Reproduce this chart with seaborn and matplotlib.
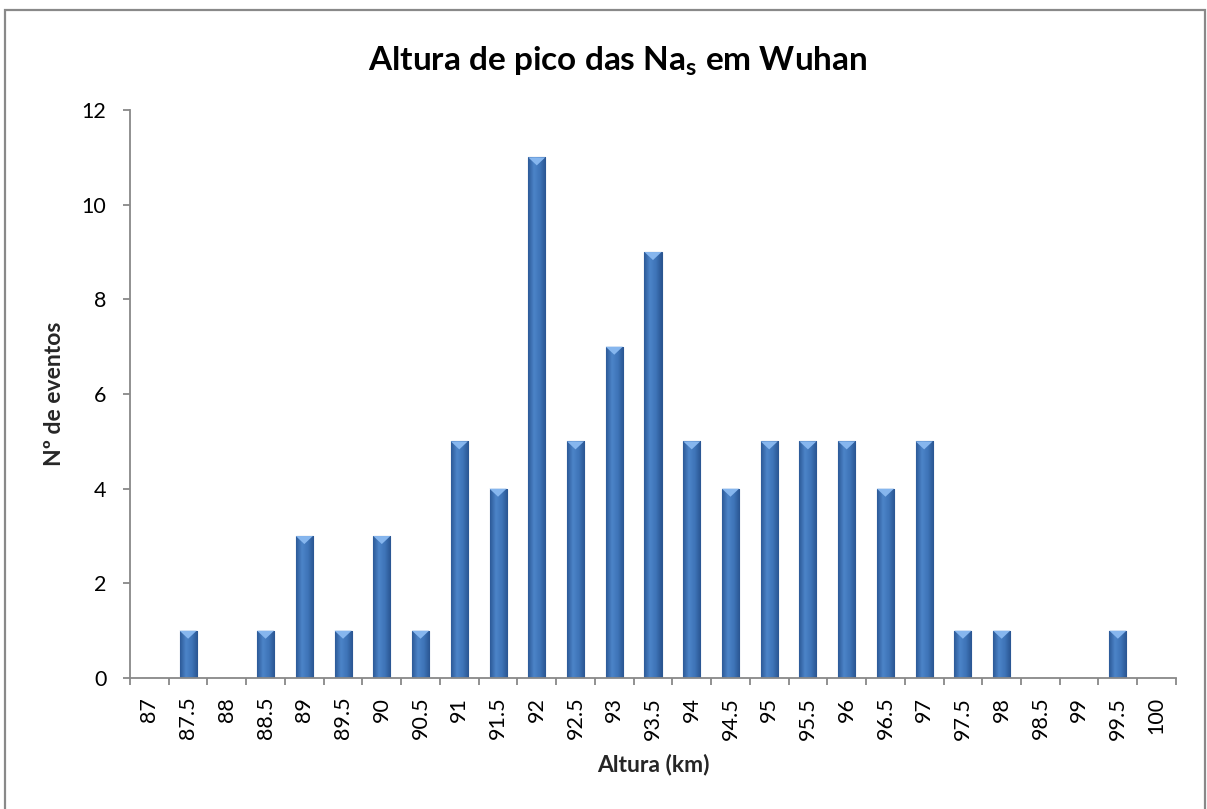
import numpy as np
import pandas as pd
import seaborn as sns
import matplotlib.pyplot as plt
from matplotlib.patches import Rectangle, Polygon
from matplotlib.colors import LinearSegmentedColormap

alturas = ["87", "87.5", "88", "88.5", "89", "89.5", "90", "90.5", "91", "91.5",
           "92", "92.5", "93", "93.5", "94", "94.5", "95", "95.5", "96", "96.5",
           "97", "97.5", "98", "98.5", "99", "99.5", "100"]
eventos = [0, 1, 0, 1, 3, 1, 3, 1, 5, 4,
           11, 5, 7, 9, 5, 4, 5, 5, 5, 4,
           5, 1, 1, 0, 0, 1, 0]

df = pd.DataFrame({"Altura": alturas, "Eventos": eventos})

sns.set_theme(style="white")
plt.rcParams["font.family"] = ["Lato", "DejaVu Sans"]
plt.rcParams["text.color"] = "black"
plt.rcParams["xtick.color"] = "black"
plt.rcParams["ytick.color"] = "black"

fig = plt.figure(figsize=(12.07, 8.09), dpi=100)
ax = fig.add_axes([0.1077, 0.1619, 0.8666, 0.7021])

sns.barplot(data=df, x="Altura", y="Eventos", order=alturas, color="#3D6FB2",
            width=0.44, edgecolor="#2A5690", linewidth=0.8, saturation=1, ax=ax)

# bevel look: horizontal gradient + light cap on each bar
grad = LinearSegmentedColormap.from_list("bev", ["#2C5A98", "#4C84C8", "#3E74B8", "#2A5692"])
g = np.linspace(0, 1, 64).reshape(1, -1)
for p in ax.patches:
    x0, w, h = p.get_x(), p.get_width(), p.get_height()
    if h <= 0:
        continue
    im = ax.imshow(g, cmap=grad, aspect="auto", extent=(x0, x0 + w, 0, h),
                   zorder=p.get_zorder() + 0.1)
    im.set_clip_path(p)
    cap = Polygon([(x0, h), (x0 + w, h), (x0 + w / 2, h - 0.17)], closed=True,
                  facecolor="#86B6EE", edgecolor="none", zorder=p.get_zorder() + 0.2)
    ax.add_patch(cap)

ax.set_xlim(-0.5, len(alturas) - 0.5)
ax.set_ylim(0, 12)
ax.set_yticks(range(0, 13, 2))
ax.set_xticks([i - 0.5 for i in range(len(alturas) + 1)], minor=True)
ax.tick_params(axis="x", which="major", length=0, labelrotation=90, labelsize=15.5, pad=13.5)
ax.tick_params(axis="x", which="minor", length=5, color="#888888", width=1.3, direction="out", bottom=True)
ax.tick_params(axis="y", length=5, color="#888888", width=1.3, direction="out", left=True,
               labelsize=15.5, pad=12)

for s in ["top", "right"]:
    ax.spines[s].set_visible(False)
for s in ["left", "bottom"]:
    ax.spines[s].set_color("#888888")
    ax.spines[s].set_linewidth(1.3)

ax.set_xlabel("Altura (km)", fontsize=16.5, fontweight="bold", labelpad=10)
ax.set_ylabel("Nº de eventos", fontsize=16.5, fontweight="bold", labelpad=12)
fig.text(0.512, 1 - 70 / 809, r"Altura de pico das Na$_\mathregular{s}$ em Wuhan",
         ha="center", va="baseline", fontsize=24, fontweight="bold")

fig.patches.append(Rectangle((4.5 / 1207, -0.02), 1200 / 1207, 1 - 10 / 809 + 0.02,
                             transform=fig.transFigure, fill=False,
                             edgecolor="#898989", linewidth=1.6))

fig.savefig("out.png", dpi=100)
